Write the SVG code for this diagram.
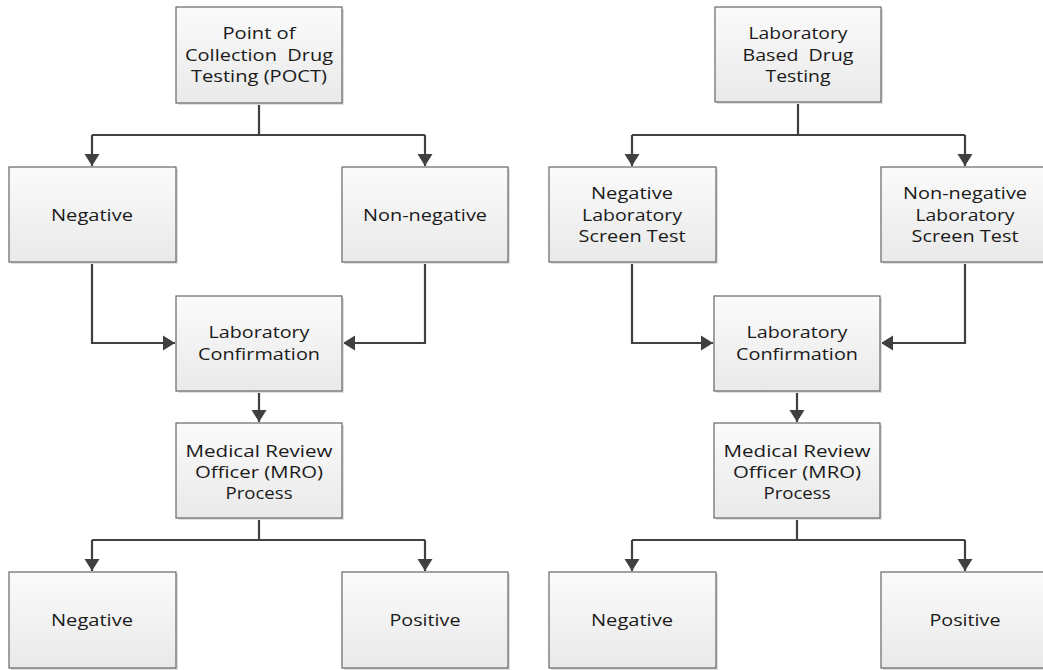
<svg xmlns="http://www.w3.org/2000/svg" width="1043" height="670" viewBox="0 0 1043 670">
<style>
.box{fill:url(#g);stroke:#666;stroke-width:1.2}
.sh{fill:#dedede}
.t{font-family:"Open Sans","Liberation Sans",sans-serif;font-size:17px;fill:#1a1a1a;text-anchor:middle}
.c{fill:none;stroke:#404040;stroke-width:2.2}
</style>
<defs>
<linearGradient id="g" x1="0" y1="0" x2="0" y2="1">
<stop offset="0" stop-color="#fbfbfb"/>
<stop offset="1" stop-color="#e9e9e9"/>
</linearGradient>
<marker id="a" markerUnits="userSpaceOnUse" markerWidth="16" markerHeight="16" viewBox="0 0 16 16" refX="14" refY="8" orient="auto">
<path d="M2,0.5 L14,8 L2,15.5 Z" fill="#404040"/>
</marker>
</defs>

<g id="connectors">
<path class="c" d="M259,103 V135 M92,135 H425"/>
<path class="c" d="M92,135 V166" marker-end="url(#a)"/>
<path class="c" d="M425,135 V166" marker-end="url(#a)"/>
<path class="c" d="M92,262 V343 H175" marker-end="url(#a)"/>
<path class="c" d="M425,262 V343 H343" marker-end="url(#a)"/>
<path class="c" d="M259,391 V422" marker-end="url(#a)"/>
<path class="c" d="M259,518 V540 M92,540 H425"/>
<path class="c" d="M92,540 V571" marker-end="url(#a)"/>
<path class="c" d="M425,540 V571" marker-end="url(#a)"/>

<path class="c" d="M798,102 V135 M632,135 H965"/>
<path class="c" d="M632,135 V166" marker-end="url(#a)"/>
<path class="c" d="M965,135 V166" marker-end="url(#a)"/>
<path class="c" d="M632,262 V343 H713" marker-end="url(#a)"/>
<path class="c" d="M965,262 V343 H881" marker-end="url(#a)"/>
<path class="c" d="M797,391 V422" marker-end="url(#a)"/>
<path class="c" d="M797,518 V540 M632,540 H965"/>
<path class="c" d="M632,540 V571" marker-end="url(#a)"/>
<path class="c" d="M965,540 V571" marker-end="url(#a)"/>
</g>

<g id="poct">
<rect class="sh" x="178" y="9" width="166" height="96"/>
<rect class="box" x="176" y="7" width="166" height="96"/>
<text class="t" x="259" y="39" textLength="73" lengthAdjust="spacingAndGlyphs">Point of</text>
<text class="t" x="259" y="61" textLength="148" lengthAdjust="spacingAndGlyphs" xml:space="preserve">Collection  Drug</text>
<text class="t" x="259" y="82" textLength="136" lengthAdjust="spacingAndGlyphs">Testing (POCT)</text>
</g>

<g id="neg1">
<rect class="sh" x="11" y="169" width="167" height="95"/>
<rect class="box" x="9" y="167" width="167" height="95"/>
<text class="t" x="92" y="221" textLength="82" lengthAdjust="spacingAndGlyphs">Negative</text>
</g>

<g id="nonneg1">
<rect class="sh" x="344" y="169" width="166" height="95"/>
<rect class="box" x="342" y="167" width="166" height="95"/>
<text class="t" x="425" y="221" textLength="124" lengthAdjust="spacingAndGlyphs">Non-negative</text>
</g>

<g id="labconf1">
<rect class="sh" x="178" y="298" width="166" height="95"/>
<rect class="box" x="176" y="296" width="166" height="95"/>
<text class="t" x="259" y="338" textLength="101" lengthAdjust="spacingAndGlyphs">Laboratory</text>
<text class="t" x="259" y="360" textLength="122" lengthAdjust="spacingAndGlyphs">Confirmation</text>
</g>

<g id="mro1">
<rect class="sh" x="178" y="425" width="166" height="95"/>
<rect class="box" x="176" y="423" width="166" height="95"/>
<text class="t" x="259" y="457" textLength="147" lengthAdjust="spacingAndGlyphs">Medical Review</text>
<text class="t" x="259" y="478" textLength="128" lengthAdjust="spacingAndGlyphs">Officer (MRO)</text>
<text class="t" x="259" y="499" textLength="67" lengthAdjust="spacingAndGlyphs">Process</text>
</g>

<g id="neg1b">
<rect class="sh" x="11" y="574" width="167" height="96"/>
<rect class="box" x="9" y="572" width="167" height="96"/>
<text class="t" x="92" y="626" textLength="82" lengthAdjust="spacingAndGlyphs">Negative</text>
</g>

<g id="pos1">
<rect class="sh" x="344" y="574" width="166" height="96"/>
<rect class="box" x="342" y="572" width="166" height="96"/>
<text class="t" x="425" y="626" textLength="71" lengthAdjust="spacingAndGlyphs">Positive</text>
</g>

<g id="lab">
<rect class="sh" x="717" y="9" width="166" height="95"/>
<rect class="box" x="715" y="7" width="166" height="95"/>
<text class="t" x="798" y="39" textLength="99" lengthAdjust="spacingAndGlyphs">Laboratory</text>
<text class="t" x="798" y="61" textLength="111" lengthAdjust="spacingAndGlyphs" xml:space="preserve">Based  Drug</text>
<text class="t" x="798" y="82" textLength="65" lengthAdjust="spacingAndGlyphs">Testing</text>
</g>

<g id="neg2">
<rect class="sh" x="551" y="169" width="167" height="95"/>
<rect class="box" x="549" y="167" width="167" height="95"/>
<text class="t" x="632" y="199" textLength="82" lengthAdjust="spacingAndGlyphs">Negative</text>
<text class="t" x="632" y="221" textLength="100" lengthAdjust="spacingAndGlyphs">Laboratory</text>
<text class="t" x="632" y="242" textLength="107" lengthAdjust="spacingAndGlyphs">Screen Test</text>
</g>

<g id="nonneg2">
<rect class="sh" x="883" y="169" width="166" height="95"/>
<rect class="box" x="881" y="167" width="166" height="95"/>
<text class="t" x="965" y="199" textLength="124" lengthAdjust="spacingAndGlyphs">Non-negative</text>
<text class="t" x="965" y="221" textLength="99" lengthAdjust="spacingAndGlyphs">Laboratory</text>
<text class="t" x="965" y="242" textLength="107" lengthAdjust="spacingAndGlyphs">Screen Test</text>
</g>

<g id="labconf2">
<rect class="sh" x="716" y="298" width="166" height="95"/>
<rect class="box" x="714" y="296" width="166" height="95"/>
<text class="t" x="797" y="338" textLength="101" lengthAdjust="spacingAndGlyphs">Laboratory</text>
<text class="t" x="797" y="360" textLength="122" lengthAdjust="spacingAndGlyphs">Confirmation</text>
</g>

<g id="mro2">
<rect class="sh" x="716" y="425" width="166" height="95"/>
<rect class="box" x="714" y="423" width="166" height="95"/>
<text class="t" x="797" y="457" textLength="147" lengthAdjust="spacingAndGlyphs">Medical Review</text>
<text class="t" x="797" y="478" textLength="128" lengthAdjust="spacingAndGlyphs">Officer (MRO)</text>
<text class="t" x="797" y="499" textLength="67" lengthAdjust="spacingAndGlyphs">Process</text>
</g>

<g id="neg2b">
<rect class="sh" x="551" y="574" width="167" height="96"/>
<rect class="box" x="549" y="572" width="167" height="96"/>
<text class="t" x="632" y="626" textLength="82" lengthAdjust="spacingAndGlyphs">Negative</text>
</g>

<g id="pos2">
<rect class="sh" x="883" y="574" width="166" height="96"/>
<rect class="box" x="881" y="572" width="166" height="96"/>
<text class="t" x="965" y="626" textLength="71" lengthAdjust="spacingAndGlyphs">Positive</text>
</g>
</svg>
